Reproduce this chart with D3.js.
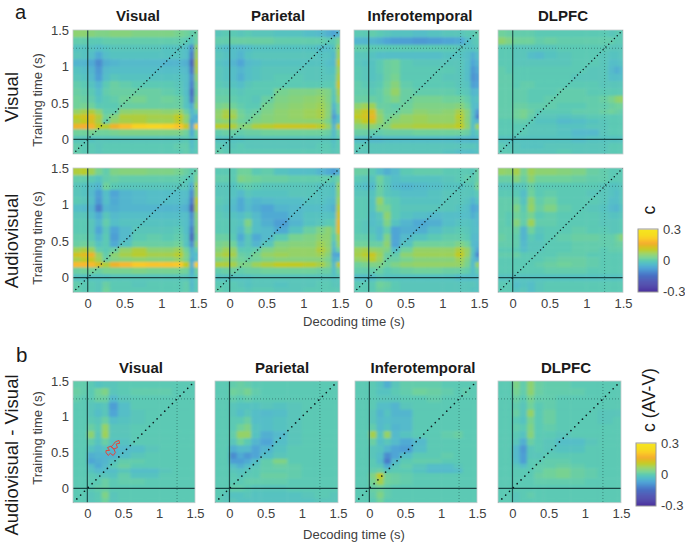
<!DOCTYPE html>
<html><head><meta charset="utf-8">
<script src="https://cdn.jsdelivr.net/npm/d3@7"></script>
<style>html,body{margin:0;background:#fff}svg{display:block}text{font-family:"Liberation Sans",Arial,sans-serif}</style>
</head><body><svg id="c" width="685" height="543"></svg>
<script>
const decodingTimes=[-0.15,-0.05,0.05,0.15,0.25,0.35,0.5,0.7,0.9,1.1,1.25,1.35,1.42,1.48];
const trainingTimes=[1.45,1.35,1.25,1.15,1.05,0.95,0.85,0.75,0.65,0.55,0.45,0.38,0.31,0.25,0.18,0.1,0,-0.1,-0.17];
const regions=["Visual","Parietal","Inferotemporal","DLPFC"];
const axisTicks=[0,0.5,1,1.5];
const valueUnit=0.0085;
const colorStops=[-0.3,-0.2,-0.13,-0.07,-0.03,0,0.03,0.07,0.11,0.14,0.17,0.21,0.25,0.3];
const colorValues=["#4a2e9c","#4a50b0","#4a78c8","#4fa4d6","#54bcca","#5cc9b4","#74d296","#96d264","#c0ca20","#dcbe20","#f4ae30","#fac828","#f6dc20","#f6e420"];
const visualVisual=[
[7,7,6,5,5,6,6,5,5,5,4,3,1,2],[1,1,0,0,1,1,1,1,1,1,1,0,-2,3],[-2,-2,-2,-3,-2,-1,-1,-1,-1,-2,-2,-3,-12,8],[-1,-2,-3,-7,-3,-2,-2,-2,-2,-2,-2,-3,-15,9],[-5,-5,-7,-12,-6,-5,-4,-4,-4,-5,-5,-6,-20,11],[-2,-3,-5,-10,-4,-3,-3,-3,-3,-3,-3,-4,-16,10],[-1,-2,-4,-9,-3,-1,-2,-2,-2,-2,-2,-3,-12,7],[1,0,-2,-5,0,2,1,0,0,0,-1,-3,-14,4],[2,1,0,-3,1,2,2,2,2,1,0,-3,-18,3],[3,2,1,-2,0,1,3,4,2,3,2,-2,-15,5],[3,4,3,0,0,0,2,2,2,2,2,-2,-7,7],[8,10,11,7,1,1,7,8,8,7,8,2,-5,1],[13,15,17,11,3,6,11,11,10,10,13,7,-5,-6],[11,13,16,10,1,8,10,11,9,9,12,6,-8,-4],[19,20,21,13,12,19,23,27,28,27,24,14,-8,26],[3,3,4,3,3,4,5,5,5,5,5,3,-7,3],[-1,-1,-2,-1,-1,-1,-1,-1,-1,-1,-1,0,-4,0],[1,0,0,-1,0,0,0,0,0,0,1,1,-3,0],[1,0,0,-1,0,0,0,0,0,0,0,1,-2,0]];
const visualParietal=[
[-1,0,0,-1,0,-1,-1,-2,-2,-3,-4,-6,-8,-5],[1,1,2,2,2,2,2,1,1,1,1,0,0,4],[-2,-3,-3,-4,-3,-2,-2,-2,-2,-2,-3,-3,-2,8],[-1,-2,-3,-5,-2,-1,-1,-1,-1,-1,-2,-2,-4,9],[-2,-3,-5,-8,-4,-3,-2,-2,-2,-2,-2,-3,-4,12],[-1,-2,-3,-5,-3,-2,-1,-1,-1,-1,-1,-2,-2,9],[-1,-2,-3,-6,-3,-2,-1,0,0,-1,-1,-1,-1,11],[0,-1,-2,-3,-1,0,0,0,0,0,0,0,0,14],[1,1,0,-1,0,0,0,4,5,5,6,5,-1,10],[2,2,1,0,0,-1,2,5,6,7,8,5,-2,8],[4,5,3,1,0,0,4,6,7,8,9,6,-5,3],[7,10,8,3,1,2,5,7,8,9,10,6,-7,3],[8,11,10,4,2,4,6,7,8,9,10,6,-10,-3],[6,7,6,3,2,5,6,7,7,7,7,4,-7,-2],[12,12,11,6,7,11,12,14,14,14,12,8,-5,12],[1,2,2,1,2,2,3,3,3,3,3,2,-4,3],[-2,-2,-2,-2,-1,-1,-1,-1,-1,-1,-1,-1,-3,0],[0,-1,-1,0,-1,-1,-1,-1,-1,-1,0,0,-2,0],[1,0,0,0,0,0,0,0,0,0,0,0,-1,0]];
const visualInferotemporal=[
[0,0,1,0,-1,-2,-2,-3,-2,-1,-1,0,0,1],[-5,-5,-5,-6,-8,-9,-9,-10,-9,-8,-7,-3,-1,0],[1,1,0,0,0,0,0,0,0,0,-1,-2,-2,-1],[-1,-1,-2,-3,-3,-3,-3,-3,-3,-2,-2,-3,-6,-3],[-1,-2,-2,0,2,3,0,-1,-1,-1,-1,-3,-8,-5],[0,-1,-2,0,2,3,0,0,0,0,-1,-3,-10,-7],[0,-1,-2,-1,2,4,0,0,0,-1,-1,-3,-11,-9],[1,0,-1,0,3,6,1,0,0,0,-1,-2,-9,-8],[1,1,0,1,4,8,2,1,1,1,0,-1,-5,-4],[2,2,2,1,3,5,2,4,4,3,3,1,-3,-2],[7,9,9,2,2,1,3,5,5,5,6,3,-3,-4],[11,14,16,6,2,2,4,7,6,7,10,6,-3,-10],[13,15,18,8,3,5,8,9,8,8,12,6,-3,-14],[10,13,15,8,4,7,8,9,8,8,11,6,-3,-5],[6,7,7,5,6,10,10,11,11,11,13,7,-3,9],[2,2,1,1,2,2,2,3,3,3,3,2,-3,0],[-3,-3,-4,-4,-3,-3,-3,-3,-3,-3,-4,-4,-5,-4],[0,0,-1,-1,-1,-1,-1,-1,-1,-1,-1,-1,-1,-2],[-1,-1,-1,-1,-1,-1,-1,-1,-1,-2,-3,-3,-3,-2]];
const visualDLPFC=[
[3,2,1,1,1,0,0,0,0,0,0,-1,0,0],[7,5,3,3,3,1,2,1,1,1,1,1,0,0],[0,0,-1,-1,-1,-1,-1,0,0,0,0,-1,-1,-1],[0,0,-1,-1,-3,-4,-2,-1,0,0,-1,-2,-2,-1],[0,0,-1,-1,-1,-1,-1,-1,0,0,-1,-3,-3,-2],[1,0,0,0,0,0,0,0,0,-1,-1,-4,-6,-4],[1,1,0,0,0,0,0,0,-1,-1,-1,-3,-3,-3],[1,1,0,1,1,0,0,0,0,0,-1,-1,-1,-1],[1,1,1,1,0,0,0,1,1,0,0,0,0,0],[1,1,1,1,0,0,1,1,1,1,2,4,7,8],[1,1,2,2,1,1,1,0,0,1,1,2,3,3],[1,1,3,4,2,0,0,0,1,1,2,3,2,1],[1,1,3,4,1,-1,-1,-2,-1,0,0,0,0,0],[0,0,1,1,0,-2,-2,-4,-3,-2,-1,0,0,0],[0,0,0,0,-1,-1,-1,-2,-2,-1,-1,0,0,0],[0,0,0,0,-1,-1,-1,-2,-4,-4,-1,0,0,0],[-2,-2,-2,-2,-2,-2,-2,-2,-3,-2,-2,-2,-2,-2],[0,-1,-1,-2,-2,-2,-1,-1,-1,-1,-1,0,0,0],[0,0,-1,-1,-1,-1,-1,0,-1,-1,-1,0,0,0]];
const avVisual=[
[11,12,9,4,1,5,6,6,5,5,4,2,0,2],[1,1,0,-2,1,2,1,1,1,1,1,0,-2,5],[-1,-2,-3,-5,3,0,-1,-1,-1,-1,-1,-1,-7,9],[-1,-2,-4,-9,-3,-8,-5,-4,-3,-3,-3,-3,-12,8],[0,-1,-3,-10,-3,-7,-5,-4,-3,-3,-3,-4,-15,12],[-3,-4,-5,-14,-5,-6,-5,-5,-5,-5,-5,-6,-21,10],[-1,-1,-3,-7,-1,-4,-3,-3,-3,-3,-3,-3,-12,6],[0,0,-1,-5,1,-3,-2,-2,-2,-2,-2,-3,-11,5],[0,0,-1,-8,-1,-8,-4,-1,-1,-1,0,-3,-15,5],[1,1,0,-5,0,-9,-4,0,1,0,1,-2,-19,3],[2,3,2,-2,0,-7,-2,2,2,2,3,-2,-12,6],[9,11,9,1,0,2,8,11,7,7,9,3,-6,1],[15,17,19,8,1,7,10,12,10,10,12,5,-5,-3],[10,12,14,9,2,5,6,7,6,6,8,4,-7,-2],[22,22,22,16,11,19,22,25,24,24,25,13,-6,26],[2,3,3,2,4,4,4,5,4,4,4,3,-6,3],[-2,-2,-2,-2,-2,-1,-1,-1,-1,-1,-1,-1,-4,0],[1,0,0,-1,2,0,0,-1,0,0,0,1,-4,0],[1,0,0,-1,3,0,0,0,0,0,0,1,-3,0]];
const avParietal=[
[0,0,0,3,3,0,1,-2,-3,-3,-5,-7,-9,-6],[1,1,0,5,4,3,2,2,1,1,1,1,0,3],[-1,-1,-2,0,1,0,-1,-1,-1,-1,-2,-2,-3,8],[-1,-1,-2,-4,-1,-2,-2,-2,-1,-1,-2,-2,-3,7],[0,-1,-3,-7,-3,-5,-4,-3,-3,-2,-2,-3,-4,9],[-1,-2,-4,-7,-4,-6,-8,-5,-4,-3,-3,-4,-6,12],[0,-1,-2,-3,-1,-4,-7,-7,-4,-2,-2,-2,-3,15],[0,0,-1,-2,5,-3,-6,-9,-5,-2,-1,0,0,18],[0,0,-1,-4,2,-3,-4,-7,-2,2,5,7,2,17],[2,2,0,-7,-1,-7,-4,0,4,5,7,7,0,10],[4,5,3,-4,-1,-5,-1,5,6,6,9,7,-3,8],[6,9,8,0,0,1,5,7,8,8,11,8,-5,3],[9,11,10,2,1,4,8,9,8,8,9,6,-8,-8],[5,7,6,3,2,3,5,6,6,6,6,4,-6,-3],[11,11,10,5,5,9,11,13,13,12,10,6,-4,12],[1,2,2,1,2,2,3,3,3,3,2,2,-3,3],[-2,-2,-2,-2,-2,-1,-1,-1,-1,-1,-1,-1,-2,-1],[0,0,0,-1,-2,-1,-1,-2,-1,-1,0,0,-1,-1],[1,0,0,0,-1,0,0,-1,-1,0,0,0,0,0]];
const avInferotemporal=[
[2,2,0,-3,-6,-4,0,1,1,0,0,0,-1,2],[0,-1,-2,3,-1,-3,-2,-2,-2,-1,0,1,0,2],[-2,-3,-4,2,-1,-4,-5,-4,-3,-2,-2,-1,-1,4],[-1,-1,-2,2,-1,-2,-3,-3,-2,-1,-1,-1,-2,0],[0,0,-2,8,1,0,-2,-2,-2,-1,-1,-2,-5,-2],[0,0,-2,5,4,0,-1,-1,-1,-1,-2,-3,-8,-6],[0,0,-3,-1,7,0,-2,-3,-4,-3,-3,-3,-6,-4],[0,-1,-3,-2,5,-2,-5,-7,-6,-3,-2,-2,-3,-4],[0,-1,-2,-4,1,-8,-6,-6,-3,-1,0,-1,-3,-3],[1,1,0,-3,5,-8,-4,-2,0,1,1,0,-4,-4],[3,3,2,2,7,-8,-2,3,3,3,5,3,-4,-5],[9,10,8,7,5,-3,3,8,8,8,11,8,-2,-8],[10,12,14,9,2,1,7,9,9,9,13,8,-3,-13],[8,9,12,8,2,2,4,6,6,6,9,5,-4,-6],[3,4,5,5,3,5,7,8,8,8,8,4,-4,8],[1,1,1,2,0,1,2,3,3,2,2,1,-3,1],[-3,-3,-3,-1,-2,-2,-2,-2,-2,-2,-3,-3,-3,-3],[0,0,0,3,2,0,-1,-1,-1,-1,-1,-1,-1,-2],[0,0,0,2,1,0,-1,-1,-1,-1,-1,-1,-2,-2]];
const avDLPFC=[
[8,7,10,4,9,7,7,6,5,2,1,0,0,0],[2,2,6,2,7,3,3,3,2,1,1,0,0,0],[-1,-1,-1,-1,2,0,0,0,0,0,-1,-2,-2,-1],[0,0,0,-3,3,0,1,0,0,-1,-1,-2,-3,-1],[1,1,2,-2,7,1,3,0,0,0,-1,-3,-3,-1],[1,1,5,0,8,2,5,1,0,-1,-2,-4,-5,-2],[1,0,3,1,4,0,1,0,0,0,-1,-2,-2,-1],[1,0,6,1,9,1,1,0,0,0,-1,-1,-1,0],[1,1,2,-5,3,-1,0,0,1,0,0,-1,-1,0],[2,1,1,-5,0,-2,0,1,2,2,1,1,3,6],[1,1,1,-4,-1,-1,0,0,1,1,1,1,2,2],[0,0,0,-3,-1,-1,0,0,1,1,0,1,1,1],[1,1,2,0,0,0,0,1,1,0,0,0,0,0],[0,0,0,0,0,0,1,2,2,1,0,0,0,0],[0,0,0,0,0,1,2,3,2,1,0,0,0,0],[0,0,0,0,0,0,1,1,1,0,0,0,0,0],[-2,-2,-2,-2,-2,-2,-2,-2,-2,-2,-2,-2,-2,-2],[0,0,-3,-2,-3,-1,0,0,0,0,0,0,0,0],[0,0,-2,-1,-3,-1,0,0,0,0,0,0,0,0]];
const diffVisual=[
[1,1,0,-2,-1,-1,0,0,0,0,0,0,0,0],[2,1,0,3,5,-1,0,1,1,1,0,0,0,0],[1,0,0,2,2,-4,-1,0,0,0,0,0,0,0],[0,0,-1,-2,-1,-9,-3,0,0,0,0,0,0,0],[0,0,-1,-3,-1,-8,-3,-1,0,0,0,0,0,0],[0,0,0,-1,2,-3,-2,-1,0,0,0,0,0,0],[0,0,2,0,8,-1,-1,0,0,0,0,0,0,0],[0,0,7,-1,9,-1,-1,0,0,0,0,0,0,0],[0,0,1,-2,2,-2,-2,0,0,0,0,0,0,0],[0,0,-2,-4,-2,-5,-4,-3,-1,0,0,0,0,0],[0,0,-6,-5,-5,-5,-3,-1,0,0,0,0,0,0],[0,0,-8,-6,-5,-2,1,1,0,0,0,0,0,0],[0,0,-3,-7,-4,0,2,0,0,0,0,0,0,0],[0,0,-2,-4,-3,-3,-1,-3,-3,-1,0,0,0,0],[0,0,0,-1,-1,-2,1,-2,-2,0,0,0,0,0],[0,0,0,0,2,0,1,1,0,0,0,0,0,0],[0,0,0,1,2,0,0,0,0,0,0,0,0,0],[0,0,-1,0,5,-1,0,0,0,0,0,0,0,0],[0,0,-1,0,3,-1,0,0,0,0,0,0,0,0]];
const diffParietal=[
[0,0,1,2,1,0,0,0,0,0,0,0,0,0],[0,0,3,2,4,1,0,0,0,0,0,0,0,0],[0,0,1,0,1,0,0,0,0,0,0,0,0,0],[0,0,-1,-2,-2,-2,-1,-2,-1,0,0,0,0,0],[0,0,-1,-3,-1,-3,-4,-3,-1,0,0,0,0,0],[0,0,0,0,2,-3,-3,-2,-1,0,0,0,0,0],[0,0,0,3,5,-2,-3,-2,-1,0,0,0,0,0],[0,0,1,8,8,-2,-6,-4,-1,0,0,0,0,0],[0,0,-1,3,0,-5,-8,-3,-1,0,0,0,0,0],[0,0,-6,-4,-4,-8,-5,-2,0,0,0,0,0,0],[0,0,-12,-7,-10,-8,-3,-1,0,0,0,0,0,0],[0,0,-9,-9,-7,-3,1,5,0,0,0,0,0,0],[0,0,-3,-6,-3,-1,1,2,1,0,0,0,0,0],[0,0,-1,-2,-1,0,1,1,1,0,0,0,0,0],[0,0,0,-1,0,0,2,2,1,0,0,0,0,0],[0,0,0,0,1,1,1,1,0,0,0,0,0,0],[0,0,1,1,0,-1,-1,-1,0,0,0,0,0,0],[0,-1,-2,-2,-1,-2,-2,-2,-2,-1,0,0,-1,-1],[0,-1,-1,-2,-2,-2,-2,-2,-2,-2,-1,-1,-1,-1]];
const diffInferotemporal=[
[0,0,0,-2,-6,-1,1,1,1,0,0,0,0,0],[0,0,0,-2,-2,0,1,3,2,1,0,1,0,0],[0,0,0,-1,-1,-1,0,0,1,0,0,0,0,0],[0,0,0,-3,-3,-5,-1,0,0,0,0,0,0,0],[0,0,-1,-5,-2,-5,-5,0,0,0,0,0,0,0],[0,0,-1,-4,-3,-4,-4,0,0,0,0,0,0,0],[0,0,1,-4,-2,-5,-4,0,0,0,0,0,0,0],[0,0,10,-2,8,-4,-2,0,0,1,2,0,0,0],[0,0,2,-3,-1,-4,-7,-4,0,0,0,0,0,0],[0,0,-1,-2,-5,-8,-9,-3,0,0,0,0,0,0],[0,0,-1,-3,-12,-8,-3,0,0,1,0,0,0,0],[0,0,0,-4,-15,-4,0,1,1,0,0,0,0,0],[0,0,0,-1,-7,-1,1,-1,-3,-3,-1,0,0,0],[0,0,1,2,-1,0,0,-2,-4,-4,-3,0,0,0],[0,0,5,13,3,2,1,0,0,0,0,0,0,0],[0,0,4,10,3,2,1,0,0,0,0,0,0,0],[0,0,2,3,1,0,0,0,0,0,0,0,0,0],[0,0,1,5,1,0,0,0,0,0,0,0,0,0],[0,0,0,3,0,0,0,0,0,0,0,0,0,0]];
const diffDLPFC=[
[0,0,5,1,7,2,1,1,0,0,0,0,0,0],[0,0,4,1,7,2,1,1,1,0,0,0,0,0],[0,0,2,0,4,1,1,0,0,0,0,0,0,0],[0,0,1,-1,3,0,1,0,0,0,0,0,0,0],[0,0,2,-1,8,0,2,0,0,0,-1,-1,-1,-1],[0,0,0,-2,4,0,2,0,0,0,-1,-1,0,0],[0,0,1,0,5,0,1,0,0,0,0,0,0,0],[0,0,0,-2,6,0,0,-1,0,0,0,0,0,0],[0,0,-1,-6,2,0,-1,-3,-3,-1,0,0,0,0],[0,0,-4,-10,-1,0,-1,-2,-2,0,0,0,0,0],[0,0,-4,-9,-1,-1,0,0,0,0,0,0,0,0],[0,0,-3,-9,0,0,1,1,0,0,0,0,0,0],[0,0,-1,-3,0,1,1,2,1,0,0,0,0,0],[0,0,0,0,0,1,3,4,2,1,0,0,0,0],[0,0,0,0,0,2,3,4,2,1,0,0,0,0],[0,0,0,0,0,1,1,1,1,0,0,0,0,0],[0,0,0,0,0,0,0,0,0,0,0,0,0,0],[0,0,-1,0,1,0,0,0,0,0,0,0,0,0],[0,0,-1,0,0,0,0,0,0,0,0,0,0,0]];
const contourLower=[[0.26,0.5],[0.29,0.46],[0.32,0.49],[0.36,0.46],[0.39,0.5],[0.37,0.55],[0.33,0.59],[0.28,0.57],[0.31,0.53],[0.26,0.53]];
const contourUpper=[[0.33,0.58],[0.37,0.55],[0.42,0.57],[0.4,0.62],[0.45,0.63],[0.44,0.67],[0.39,0.65],[0.36,0.61]];
const panelRows=[
 {grids:[visualVisual,visualParietal,visualInferotemporal,visualDLPFC],top:30,bottom:154,xs:[[73,198],[215,340],[354,479],[498,623]],yLabels:true,xLabels:false},
 {grids:[avVisual,avParietal,avInferotemporal,avDLPFC],top:168,bottom:292.3,xs:[[73,198],[215,340],[354,479],[498,623]],yLabels:true,xLabels:true},
 {grids:[diffVisual,diffParietal,diffInferotemporal,diffDLPFC],top:381,bottom:502.7,xs:[[73,195],[215,338],[355,477],[498,621]],yLabels:true,xLabels:true}
];
const svg=d3.select("#c");
const color=d3.scaleLinear().domain(colorStops).range(colorValues).clamp(true);
const defs=svg.append("defs");
defs.append("filter").attr("id","soft").attr("x","-10%").attr("y","-10%").attr("width","120%").attr("height","120%")
  .append("feGaussianBlur").attr("stdDeviation","1.8 1.3");
const edges=c=>{const e=[];for(let i=0;i<c.length-1;i++)e.push((c[i]+c[i+1])/2);return e;};
const xEdges=[-0.4,...edges(decodingTimes),1.7];
const yEdges=[1.7,...edges(trainingTimes),-0.4];
const fmt=d=>d===0?"0":String(d);
panelRows.forEach((row,ri)=>{
 row.xs.forEach((xr,ci)=>{
  const x=d3.scaleLinear().domain([-0.2,1.5]).range(xr);
  const y=d3.scaleLinear().domain([-0.2,1.5]).range([row.bottom,row.top]);
  const g=svg.append("g");
  const id=`clip${ri}${ci}`;
  defs.append("clipPath").attr("id",id).append("rect").attr("x",xr[0]).attr("y",row.top).attr("width",xr[1]-xr[0]).attr("height",row.bottom-row.top);
  const clip=g.append("g").attr("clip-path",`url(#${id})`);
  const blur=clip.append("g").attr("filter","url(#soft)");
  row.grids[ci].forEach((vals,r)=>{
   blur.selectAll(null).data(vals).join("rect")
    .attr("x",(d,i)=>x(xEdges[i])).attr("width",(d,i)=>x(xEdges[i+1])-x(xEdges[i])+0.5)
    .attr("y",y(yEdges[r])).attr("height",y(yEdges[r+1])-y(yEdges[r])+0.5)
    .attr("fill",d=>color(d*valueUnit));
  });
  g.append("rect").attr("x",xr[0]).attr("y",row.top).attr("width",xr[1]-xr[0]).attr("height",row.bottom-row.top).attr("fill","none").attr("stroke","#c4cccc").attr("stroke-width",0.8);
  const ln=(x1,y1,x2,y2,w,dash,col,op)=>clip.append("line").attr("x1",x1).attr("y1",y1).attr("x2",x2).attr("y2",y2)
     .attr("stroke",col).attr("stroke-width",w).attr("stroke-dasharray",dash).attr("stroke-opacity",op).attr("stroke-linecap",dash&&dash.startsWith("0")?"round":"butt");
  ln(x(1.25),row.top,x(1.25),row.bottom,0.9,"1 2","#1c4a48",0.6);
  ln(xr[0],y(1.25),xr[1],y(1.25),0.9,"1 2","#1c4a48",0.6);
  ln(x(0),row.top,x(0),row.bottom,1.2,null,"#123838",0.85);
  ln(xr[0],y(0),xr[1],y(0),1.2,null,"#123838",0.9);
  ln(x(-0.2),y(-0.2),x(ri==2?1.47:1.5),y(ri==2?1.47:1.5),ri==2?1.7:1.5,ri==2?"0 5.4":"0 4","#0c1c20",1);
  if(ri==2&&ci==0){
   [contourLower,contourUpper].forEach(c=>g.append("path").attr("d",d3.line().x(d=>x(d[0])).y(d=>y(d[1])).curve(d3.curveLinearClosed)(c)).attr("fill","none").attr("stroke","#e5433a").attr("stroke-width",1));
  }
  if(row.yLabels&&ci==0){
   const a=g.append("g").attr("transform",`translate(${xr[0]-4},0)`).call(d3.axisLeft(y).tickValues(axisTicks).tickSize(0).tickFormat(fmt));
   a.select(".domain").remove();
   a.selectAll("text").attr("font-size",13).attr("fill","#404040").attr("x",0);
  }
  if(row.xLabels){
   const a=g.append("g").attr("transform",`translate(0,${row.bottom+6})`).call(d3.axisBottom(x).tickValues(axisTicks).tickSize(0).tickFormat(fmt));
   a.select(".domain").remove();
   a.selectAll("text").attr("font-size",13).attr("fill","#404040").attr("y",0);
  }
 });
});
const text=(s,x,y,size,opt={})=>svg.append("text").text(s).attr("font-size",size).attr("text-anchor",opt.anchor||"middle")
   .attr("font-weight",opt.bold?"bold":"normal").attr("fill",opt.fill||"#1a1a1a")
   .attr("transform",`translate(${x},${y})${opt.rot?` rotate(${opt.rot})`:""}`);
[[138,278,420,563],[141,282,423,566]].forEach((xs,i)=>xs.forEach((x,k)=>text(regions[k],x,i==0?21:373,15,{bold:true})));
text("a",15,18.5,20,{anchor:"start"});
text("b",16,362,20.5,{anchor:"start"});
text("Visual",17.5,97,18.5,{rot:-90});
text("Audiovisual",17.5,241,18.5,{rot:-90});
text("Audiovisual - Visual",17.5,455,18.5,{rot:-90});
[100,238,438].forEach(y=>text("Training time (s)",42,y,13,{rot:-90,fill:"#404040"}));
text("Decoding time (s)",354,326,13,{fill:"#404040"});
text("Decoding time (s)",354,539,13,{fill:"#404040"});
const cbars=[{x0:638,x1:658,top:229,bottom:292,label:"c",lx:655,ly:210,lsize:17.5},{x0:636,x1:656,top:443,bottom:506,label:"c (AV-V)",lx:655,ly:400,lsize:17.5}];
const cbarTicks=[-0.3,0,0.3];
cbars.forEach(c=>{
 const s=d3.scaleLinear().domain([-0.3,0.3]).range([c.bottom-0.5,c.top+0.5]);
 const levels=d3.range(60).map(i=>-0.3+i*0.01);
 svg.append("g").selectAll("rect").data(levels).join("rect").attr("x",c.x0).attr("width",c.x1-c.x0)
   .attr("y",d=>s(d+0.01)).attr("height",d=>s(d)-s(d+0.01)+0.5).attr("fill",d=>color(d+0.005));
 svg.append("rect").attr("x",c.x0).attr("y",c.top).attr("width",c.x1-c.x0).attr("height",c.bottom-c.top).attr("fill","none").attr("stroke","#9a9a9a").attr("stroke-width",1);
 const a=svg.append("g").attr("transform",`translate(${c.x1+5},0)`).call(d3.axisRight(s).tickValues(cbarTicks).tickSize(0).tickFormat(fmt));
 a.select(".domain").remove();
 a.selectAll("text").attr("font-size",13).attr("fill","#404040").attr("x",0);
 text(c.label,c.lx,c.ly,c.lsize,{rot:-90});
});
</script></body></html>
